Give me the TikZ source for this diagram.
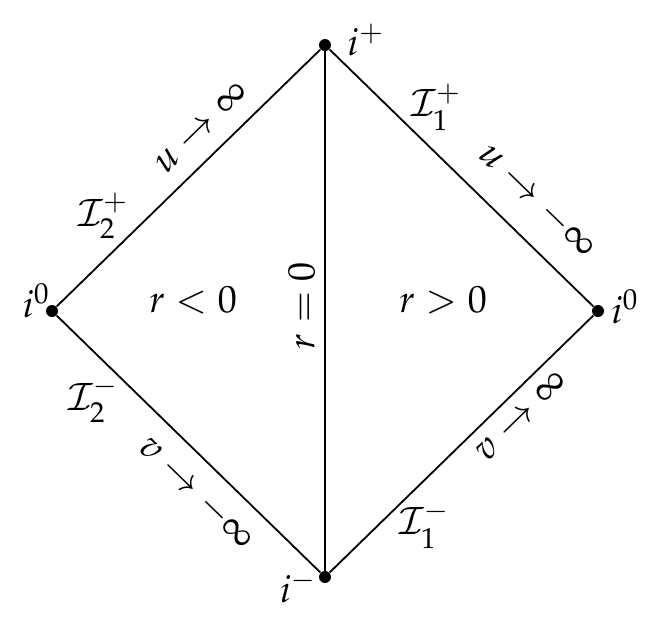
\documentclass[tikz,border=0pt]{standalone}
\usepackage{mathpazo}
\usetikzlibrary{positioning}

\begin{document}
\begin{tikzpicture}[x=0.5pt, y=-0.5pt, font=\fontsize{19}{23}\selectfont,
	dot/.style={circle, fill, inner sep=0pt, minimum size=6pt},
	edgeline/.style={line width=0.9pt}]
	\useasboundingbox (0,0) rectangle (666,628);

	% corners of the diagram
	\node[dot] (top)   at (325,45)  {};
	\node[dot] (left)  at (52,311)  {};
	\node[dot] (right) at (598,311) {};
	\node[dot] (bot)   at (325,577) {};

	\node (iplus)   [right=4.5pt of top, yshift=2.5pt]   {$i^+$};
	\node (iminus)  [left=-2.5pt of bot, yshift=-5pt]    {$i^-$};
	\node (izerol)  [left=-5.5pt of left, yshift=5pt]    {$i^0$};
	\node (izeror)  [right=0pt of right, yshift=2pt]     {$i^0$};

	% null boundaries
	\draw[edgeline] (left) -- node[sloped, above=5pt, pos=0.62] {$u \to \infty$} (top);
	\draw[edgeline] (top) -- node[sloped, above=8pt, pos=0.69] {$u \to -\infty$} (right);
	\draw[edgeline] (left) -- node[sloped, below=4.4pt, pos=0.61] {$v \to -\infty$} (bot);
	\draw[edgeline] (bot) -- node[sloped, below=2.6pt, pos=0.67] {$v \to \infty$} (right);
	\draw[edgeline] (bot) -- node[sloped, above=1.2pt, pos=0.51] {$r = 0$} (top);

	\node (scri2p) at (103,216) {$\mathcal{I}_2^+$};
	\node (scri1p) at (436,107) {$\mathcal{I}_1^+$};
	\node (scri2m) at (93,400)  {$\mathcal{I}_2^-$};
	\node (scri1m) at (424,525) {$\mathcal{I}_1^-$};

	\node (neg) at (193,300) {$r < 0$};
	\node (pos) at (443,300) {$r > 0$};
\end{tikzpicture}
\end{document}
